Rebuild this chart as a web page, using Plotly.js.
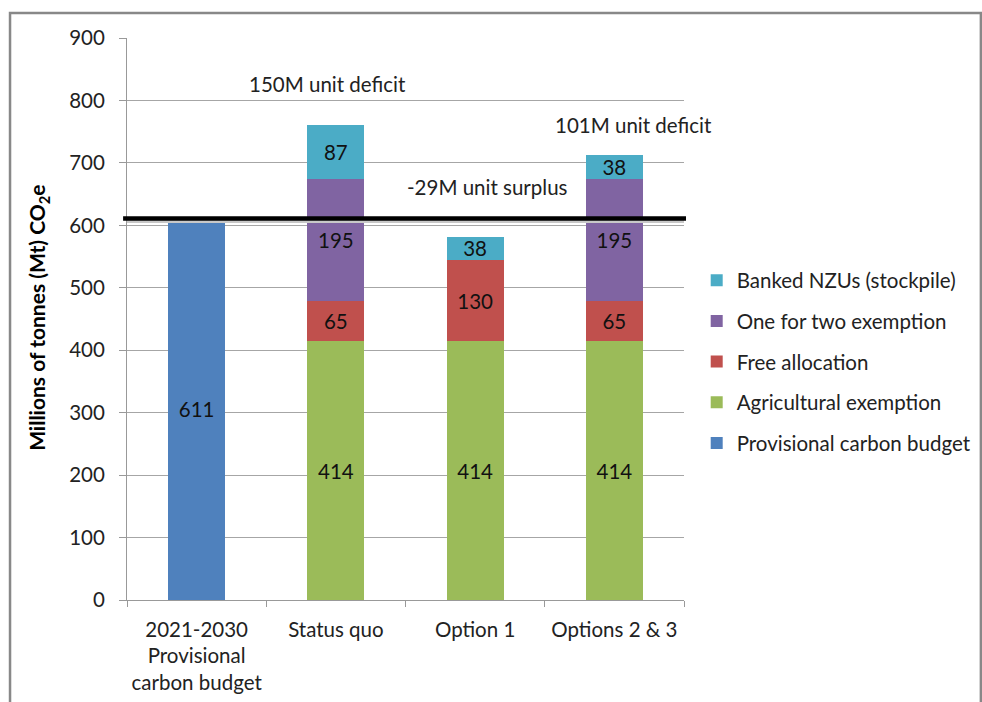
<!DOCTYPE html>
<html>
<head>
<meta charset="utf-8">
<script src="https://cdn.plot.ly/plotly-3.0.1.min.js"></script>
<style>html,body{margin:0;padding:0;background:#fff;}#chart{width:982px;height:702px;}</style>
</head>
<body>
<div id="chart"></div>
<script>
const categories = ["2021-2030<br>Provisional<br>carbon budget", "Status quo", "Option 1", "Options 2 & 3"];
const provisional = [611, null, null, null];
const agricultural = [null, 414, 414, 414];
const freeAllocation = [null, 65, 130, 65];
const oneForTwo = [null, 195, null, 195];
const banked = [null, 87, 38, 38];
const budgetLine = 611;
const yTicks = [0, 100, 200, 300, 400, 500, 600, 700, 800, 900];
const notes = [
  {text: "150M unit deficit", cat: 1, y: 826, dx: -8},
  {text: "101M unit deficit", cat: 3, y: 761, dx: 19},
  {text: "-29M unit surplus", cat: 2, y: 661, dx: 12}
];

const FONT = "Lato, 'Open Sans', sans-serif";
const FS = 20.5;
function mk(name, vals, color, rank) {
  return {
    type: "bar", name: name, x: categories, y: vals,
    marker: {color: color},
    text: vals.map(v => v == null ? "" : String(v)),
    textposition: "inside", insidetextanchor: "middle", textangle: 0,
    constraintext: "none",
    textfont: {color: "#111", size: FS, family: FONT},
    hoverinfo: "skip", legendgroup: name, legendrank: rank
  };
}
const data = [
  mk("Provisional carbon budget", provisional, "#4F81BD", 5),
  mk("Agricultural exemption", agricultural, "#9BBB59", 4),
  mk("Free allocation", freeAllocation, "#C0504D", 3),
  mk("One for two exemption", oneForTwo, "#8064A2", 2),
  mk("Banked NZUs (stockpile)", banked, "#4BACC6", 1)
];

const layout = {
  width: 982, height: 702,
  margin: {l: 127, r: 298, t: 38, b: 102, autoexpand: false},
  paper_bgcolor: "#fff", plot_bgcolor: "#fff",
  font: {family: FONT, size: FS, color: "#222"},
  barmode: "stack", bargap: 0.59,
  showlegend: true,
  legend: {x: 1.0228, y: 0.4235, yanchor: "middle", xanchor: "left",
    traceorder: "grouped", tracegroupgap: 11,
    font: {size: FS, family: FONT, color: "#222"}},
  xaxis: {type: "category", range: [-0.5, 3.5], autorange: false, showline: true, linecolor: "#999", linewidth: 1,
    ticks: "outside", tickson: "boundaries", ticklen: 6, tickcolor: "#999", tickangle: 0,
    showgrid: false, tickfont: {size: FS}, ticklabelstandoff: 11, automargin: false},
  yaxis: {range: [0, 900], autorange: false, tickvals: yTicks, showline: true, linecolor: "#999",
    ticks: "outside", ticklen: 7, tickcolor: "#999", gridcolor: "#a6a6a6",
    zeroline: false, ticklabelstandoff: 10, tickfont: {size: FS}, automargin: false},
  shapes: [
    {type: "line", xref: "paper", yref: "y", x0: 0.0, x1: 1.0, ysizemode: "pixel", yanchor: budgetLine, y0: -3, y1: -3,
      line: {color: "#c8c8c8", width: 3}},
    {type: "line", xref: "paper", yref: "y", x0: -0.007, x1: 1.0036, y0: budgetLine, y1: budgetLine,
      line: {color: "#000", width: 4.5}},
    {type: "rect", xref: "paper", yref: "paper", x0: -0.21, x1: 1.533, y0: -0.2, y1: 1.0445,
      line: {color: "#888", width: 2.5}, fillcolor: "rgba(0,0,0,0)", layer: "below"}
  ],
  annotations: notes.map(n => ({text: n.text, x: categories[n.cat], y: n.y, xref: "x", yref: "y",
    xshift: n.dx, showarrow: false, font: {size: FS, color: "#222"}})).concat([
    {text: "<b>Millions of tonnes (Mt) CO<sub>2</sub>e</b>", xref: "paper", yref: "paper",
     x: -0.1598, y: 0.502, xanchor: "center", yanchor: "middle", textangle: -90, showarrow: false,
     font: {size: 21, color: "#000"}}
  ])
};
Plotly.newPlot("chart", data, layout, {displayModeBar: false, staticPlot: true});
</script>
</body>
</html>
